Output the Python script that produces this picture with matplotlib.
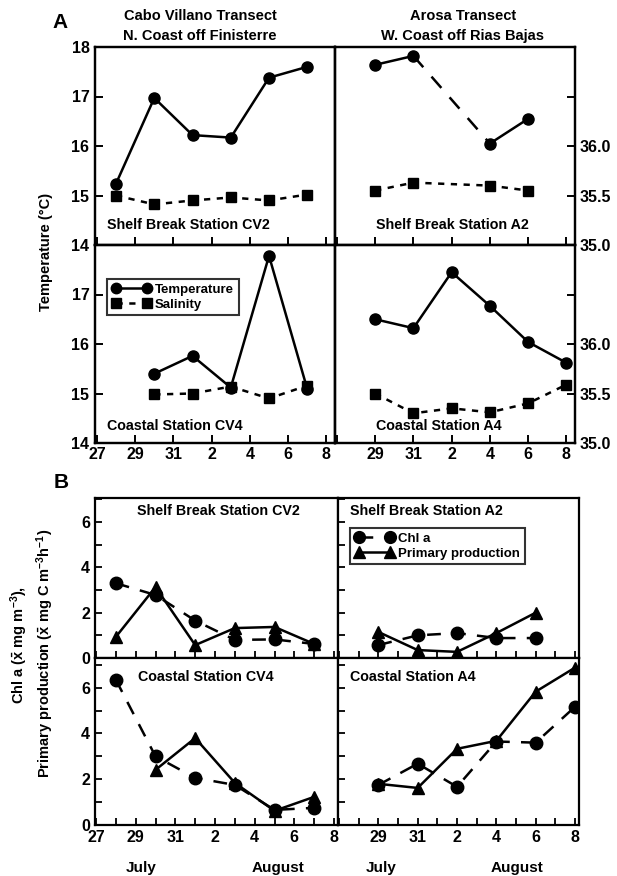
import matplotlib
matplotlib.use("Agg")
import matplotlib.pyplot as plt
from matplotlib.lines import Line2D

plt.rcParams['font.family'] = ['Liberation Sans', 'DejaVu Sans']
plt.rcParams['font.weight'] = 'bold'
plt.rcParams['mathtext.fontset'] = 'custom'
plt.rcParams['mathtext.rm'] = 'Liberation Sans:bold'
plt.rcParams['mathtext.it'] = 'Liberation Sans:bold'
plt.rcParams['mathtext.bf'] = 'Liberation Sans:bold'

# ---------------- data (day 0 = 27 July) ----------------
# Panel A: temperature (deg C) and salinity
cv2_days = [1, 3, 5, 7, 9, 11]
cv2_temp = [15.24, 16.97, 16.22, 16.17, 17.38, 17.60]
cv2_sal = [35.50, 35.41, 35.45, 35.48, 35.45, 35.51]

a2_days = [2, 4, 8, 10]
a2_temp = [17.64, 17.82, 16.05, 16.55]
a2_sal = [35.55, 35.63, 35.60, 35.55]

cv4_days = [3, 5, 7, 9, 11]
cv4_temp = [15.40, 15.76, 15.12, 17.78, 15.09]
cv4_sal = [35.49, 35.50, 35.57, 35.45, 35.58]

a4_days = [2, 4, 6, 8, 10, 12]
a4_temp = [16.50, 16.32, 17.45, 16.77, 16.04, 15.62]
a4_sal = [35.50, 35.30, 35.35, 35.31, 35.40, 35.59]

# Panel B: Chl a and primary production
cv2b_days = [1, 3, 5, 7, 9, 11]
cv2_chl = [3.30, 2.78, 1.65, 0.80, 0.82, 0.62]
cv2_pp = [0.93, 3.13, 0.57, 1.32, 1.37, 0.62]

a2b_days = [2, 4, 6, 8, 10]
a2_chl = [0.57, 1.00, 1.10, 0.88, 0.88]
a2_pp = [1.15, 0.35, 0.27, 1.10, 2.00]

cv4b_chl_days = [1, 3, 5, 7, 9, 11]
cv4_chl = [6.35, 3.00, 2.06, 1.75, 0.66, 0.75]
cv4b_pp_days = [3, 5, 7, 9, 11]
cv4_pp = [2.41, 3.80, 1.84, 0.62, 1.23]

a4b_days = [2, 4, 6, 8, 10, 12]
a4_chl = [1.75, 2.68, 1.67, 3.65, 3.60, 5.17]
a4_pp = [1.80, 1.62, 3.33, 3.68, 5.83, 6.88]

day_ticks = [0, 2, 4, 6, 8, 10, 12]
day_labels = ['27', '29', '31', '2', '4', '6', '8']
sal_ticks = [35.0, 35.5, 36.0, 36.5]
sal_labels = ['35.0', '35.5', '36.0', '']

# ---------------- figure ----------------
W, H = 617, 876
fig = plt.figure(figsize=(W / 100, H / 100), dpi=100)


def px_axes(x0, y0, x1, y1):
    return fig.add_axes([x0 / W, 1 - y1 / H, (x1 - x0) / W, (y1 - y0) / H])


def ftext(x, y, s, **kw):
    fig.text(x / W, 1 - y / H, s, **kw)


LW = 1.8
SPW = 1.6
TFS = 11.5

def style_spines(ax):
    for s in ax.spines.values():
        s.set_linewidth(SPW)


# ---------- Panel A ----------
axA = {
    'tl': px_axes(95, 47, 335, 245),
    'tr': px_axes(335, 47, 575, 245),
    'bl': px_axes(95, 245, 335, 443),
    'br': px_axes(335, 245, 575, 443),
}

def temp_line(ax, days, temp):
    # solid for consecutive samples, long dash across gaps
    for i in range(len(days) - 1):
        gap = days[i + 1] - days[i] > 2
        ax.plot(days[i:i + 2], temp[i:i + 2], color='black', lw=LW,
                ls=(0, (6, 5)) if gap else '-', solid_capstyle='butt', zorder=2)
    ax.plot(days, temp, ls='none', marker='o', ms=8, color='black', zorder=3)

def sal_line(axs, days, sal):
    axs.plot(days, sal, color='black', lw=LW, ls=(0, (2.5, 2.6)),
             marker='s', ms=7, zorder=3)

A_sets = {
    'tl': (cv2_days, cv2_temp, cv2_sal),
    'tr': (a2_days, a2_temp, a2_sal),
    'bl': (cv4_days, cv4_temp, cv4_sal),
    'br': (a4_days, a4_temp, a4_sal),
}

for key, ax in axA.items():
    days, temp, sal = A_sets[key]
    ax.set_xlim(-0.1, 12.45)
    ax.set_ylim(14, 18)
    axs = ax.twinx()
    axs.set_ylim(35, 37)
    temp_line(ax, days, temp)
    sal_line(axs, days, sal)
    style_spines(ax)
    style_spines(axs)
    ax.set_xticks(day_ticks)
    ax.tick_params(axis='x', direction='in', length=6, width=1.4,
                   labelsize=TFS, pad=3, top=False)
    ax.tick_params(axis='y', direction='in', length=6, width=1.4,
                   labelsize=TFS, pad=4)
    if key in ('tl', 'bl'):
        ax.set_yticks([14, 15, 16, 17, 18])
        if key == 'bl':
            ax.set_yticklabels(['14', '15', '16', '17', ''])
        axs.set_yticks([])
    else:
        ax.set_yticks([])
        axs.set_yticks(sal_ticks)
        axs.set_yticklabels(sal_labels)
        axs.tick_params(axis='y', direction='in', length=6, width=1.4,
                        labelsize=TFS, pad=3)
    if key in ('tl', 'tr'):
        ax.set_xticklabels([])
    elif key == 'bl':
        ax.set_xticklabels(day_labels)
    else:
        ax.set_xticklabels([''] + day_labels[1:])
    for lab in ax.get_xticklabels() + ax.get_yticklabels() + axs.get_yticklabels():
        lab.set_fontweight('bold')

# Legend panel A
hA = [Line2D([], [], color='black', lw=LW, marker='o', ms=7.5),
      Line2D([], [], color='black', lw=LW, ls=(0, (2.5, 2.6)), marker='s', ms=6.5)]
legA = axA['bl'].legend(hA, ['Temperature', 'Salinity'], loc='upper left',
                        bbox_to_anchor=(107 / W, 1 - 279 / H),
                        bbox_transform=fig.transFigure, borderaxespad=0,
                        frameon=True, fancybox=False, fontsize=9.5,
                        handlelength=3.0, handletextpad=0.3, borderpad=0.35,
                        labelspacing=0.2, numpoints=2)
legA.get_frame().set_edgecolor('black')
legA.get_frame().set_linewidth(1.5)

# Titles & labels A
ftext(60, 23, 'A', fontsize=15, ha='center', va='center')
ftext(200, 16, 'Cabo Villano Transect', fontsize=10.5, ha='center', va='center')
ftext(200, 36, 'N. Coast off Finisterre', fontsize=10.5, ha='center', va='center')
ftext(463, 16, 'Arosa Transect', fontsize=10.5, ha='center', va='center')
ftext(463, 36, 'W. Coast off Rias Bajas', fontsize=10.5, ha='center', va='center')
ftext(46, 252, 'Temperature (°C)', fontsize=10.5, rotation=90, ha='center', va='center')

ftext(107, 225, 'Shelf Break Station CV2', fontsize=10.3, ha='left', va='center')
ftext(376, 225, 'Shelf Break Station A2', fontsize=10.3, ha='left', va='center')
ftext(107, 426, 'Coastal Station CV4', fontsize=10.3, ha='left', va='center')
ftext(376, 426, 'Coastal Station A4', fontsize=10.3, ha='left', va='center')

# ---------- Panel B ----------
axB = {
    'tl': px_axes(95, 498, 338, 658),
    'tr': px_axes(338, 498, 579, 658),
    'bl': px_axes(95, 658, 338, 825),
    'br': px_axes(338, 658, 579, 825),
}
B_sets = {
    'tl': (cv2b_days, cv2_chl, cv2b_days, cv2_pp),
    'tr': (a2b_days, a2_chl, a2b_days, a2_pp),
    'bl': (cv4b_chl_days, cv4_chl, cv4b_pp_days, cv4_pp),
    'br': (a4b_days, a4_chl, a4b_days, a4_pp),
}
CHL_DASH = (0, (5.5, 4.5))

for key, ax in axB.items():
    cd, chl, pd_, pp = B_sets[key]
    ax.set_xlim(-0.05, 12.2)
    ax.set_ylim(0, 7.06 if key in ('tl', 'tr') else 7.3)
    ax.plot(cd, chl, color='black', lw=LW, ls=CHL_DASH, marker='o', ms=9, zorder=3)
    ax.plot(pd_, pp, color='black', lw=LW, ls='-', marker='^', ms=9, zorder=3)
    style_spines(ax)
    ax.set_xticks(day_ticks)
    ax.set_xticks(range(0, 13), minor=True)
    ax.set_yticks([0, 2, 4, 6])
    ax.set_yticks([1, 3, 5, 7], minor=True)
    ax.tick_params(which='both', direction='in', length=5, width=1.3,
                   labelsize=TFS, top=False, right=False)
    if key in ('tl', 'tr'):
        ax.set_xticklabels([])
    elif key == 'bl':
        ax.set_xticklabels(day_labels)
    else:
        ax.set_xticklabels([''] + day_labels[1:])
    if key in ('tr', 'br'):
        ax.set_yticklabels([])
    for lab in ax.get_xticklabels() + ax.get_yticklabels():
        lab.set_fontweight('bold')

hB = [Line2D([], [], color='black', lw=LW, ls=CHL_DASH, marker='o', ms=8.5),
      Line2D([], [], color='black', lw=LW, marker='^', ms=8.5)]
legB = axB['tr'].legend(hB, ['Chl a', 'Primary production'], loc='upper left',
                        bbox_to_anchor=(350 / W, 1 - 528 / H),
                        bbox_transform=fig.transFigure, borderaxespad=0,
                        frameon=True, fancybox=False, fontsize=9.5,
                        handlelength=3.0, handletextpad=0.3, borderpad=0.35,
                        labelspacing=0.2, numpoints=2)
legB.get_frame().set_edgecolor('black')
legB.get_frame().set_linewidth(1.5)

ftext(61, 483, 'B', fontsize=15, ha='center', va='center')
ftext(137, 511, 'Shelf Break Station CV2', fontsize=10.3, ha='left', va='center')
ftext(350, 511, 'Shelf Break Station A2', fontsize=10.3, ha='left', va='center')
ftext(138, 677, 'Coastal Station CV4', fontsize=10.3, ha='left', va='center')
ftext(350, 677, 'Coastal Station A4', fontsize=10.3, ha='left', va='center')

ftext(19, 645, r'Chl a ($\bar{\mathrm{x}}$ mg m$^{-3}$),', fontsize=10.5,
      rotation=90, ha='center', va='center')
ftext(45, 653, r'Primary production ($\bar{\mathrm{x}}$ mg C m$^{-3}$h$^{-1}$)',
      fontsize=10.5, rotation=90, ha='center', va='center')

ftext(141, 868, 'July', fontsize=11, ha='center', va='center')
ftext(278, 868, 'August', fontsize=11, ha='center', va='center')
ftext(381, 868, 'July', fontsize=11, ha='center', va='center')
ftext(517, 868, 'August', fontsize=11, ha='center', va='center')

fig.savefig('out.png', dpi=100)
